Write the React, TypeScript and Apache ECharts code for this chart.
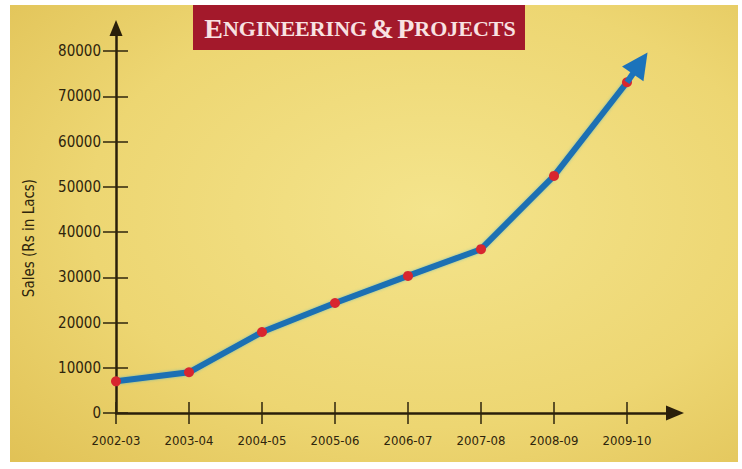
import React, { useEffect, useRef } from "react";
import * as echarts from "echarts";

const categories = ["2002-03", "2003-04", "2004-05", "2005-06", "2006-07", "2007-08", "2008-09", "2009-10"];
const sales = [7000, 9000, 17900, 24300, 30300, 36200, 52400, 73100];
const yMin = 0;
const yMax = 80000;
const yInterval = 10000;
// trend arrow continues beyond the last point (category index, value)
const arrowStart = [7, 73100];
const arrowEnd = [7.18, 77300];
const titleText = "{b|E}{s|NGINEERING} {b|&} {b|P}{s|ROJECTS}";
const yName = "Sales (Rs in Lacs)";

const NARROW = "'Liberation Sans Narrow', 'DejaVu Sans Condensed', 'Roboto', sans-serif";
const INK = "#2e240c";

export default function App() {
  const ref = useRef<HTMLDivElement>(null);
  useEffect(() => {
    if (!ref.current) return;
    const chart = echarts.init(ref.current, null, { renderer: "svg" });
    const option: any = {
      animation: false,
      backgroundColor: "#ffffff",
      grid: [
        { left: 116, right: 115, top: 51, bottom: 56 },
        { left: 116, right: 67, top: 28, bottom: 56 },
        { left: 116, right: 42, top: 51, bottom: 56 },
      ],
      graphic: [
        {
          type: "rect",
          z: -10,
          silent: true,
          shape: { x: 10, y: 5, width: 728, height: 457 },
          style: {
            fill: new echarts.graphic.RadialGradient(0.58, 0.45, 1.05, [
              { offset: 0, color: "#f4e48c" },
              { offset: 0.45, color: "#edd672" },
              { offset: 0.8, color: "#dfbf52" },
              { offset: 1, color: "#cba133" },
            ]),
          },
        },
        {
          type: "rect",
          z: 10,
          shape: { x: 193, y: 5, width: 332, height: 45 },
          style: { fill: "#a3192b" },
        },
        {
          type: "text",
          z: 11,
          x: 360,
          y: 28,
          style: {
            text: titleText,
            align: "center",
            verticalAlign: "middle",
            fill: "#f8e2e2",
            rich: {
              b: { fontFamily: "'Liberation Serif', serif", fontWeight: "bold", fontSize: 28, fill: "#f8e2e2" },
              s: { fontFamily: "'Liberation Serif', serif", fontWeight: "bold", fontSize: 22, fill: "#f8e2e2" },
            },
          },
        },
        {
          type: "text",
          z: 5,
          x: 29,
          y: 238,
          rotation: Math.PI / 2,
          style: {
            text: yName,
            align: "center",
            verticalAlign: "middle",
            fontFamily: NARROW,
            fontSize: 15,
            fill: INK,
          },
        },
      ],
      xAxis: [
        {
          type: "category",
          gridIndex: 0,
          position: "bottom",
          data: categories,
          boundaryGap: false,
          axisLine: { show: false },
          axisTick: { show: true, inside: false, length: 11, lineStyle: { color: INK, width: 1.5 } },
          axisLabel: { interval: 0, margin: 21, fontFamily: NARROW, fontSize: 13, color: INK },
          splitLine: { show: false },
        },
        {
          type: "category",
          gridIndex: 0,
          position: "bottom",
          data: categories,
          boundaryGap: false,
          axisLine: { show: false },
          axisTick: { show: true, inside: true, length: 11, lineStyle: { color: INK, width: 1.5 } },
          axisLabel: { show: false },
          splitLine: { show: false },
        },
        {
          type: "value",
          gridIndex: 1,
          position: "bottom",
          min: 0,
          max: 1,
          axisLine: {
            show: true,
            lineStyle: { color: "#2a1f0a", width: 2.5 },
            symbol: ["none", "triangle"],
            symbolSize: [15, 18],
          },
          axisTick: { show: false },
          axisLabel: { show: false },
          splitLine: { show: false },
        },
        {
          type: "value",
          gridIndex: 2,
          position: "top",
          min: 0,
          max: categories.length,
          show: false,
        },
      ],
      yAxis: [
        {
          type: "value",
          gridIndex: 0,
          position: "left",
          min: yMin,
          max: yMax,
          interval: yInterval,
          axisLine: { show: false },
          axisTick: { show: true, inside: false, length: 13, lineStyle: { color: INK, width: 1.5 } },
          axisLabel: {
            margin: 15,
            fontFamily: NARROW,
            fontSize: 15,
            color: INK,
            formatter: (v: number) => String(v),
          },
          splitLine: { show: false },
        },
        {
          type: "value",
          gridIndex: 0,
          position: "left",
          min: yMin,
          max: yMax,
          interval: yInterval,
          axisLine: { show: false },
          axisTick: { show: true, inside: true, length: 12, lineStyle: { color: INK, width: 1.5 } },
          axisLabel: { show: false },
          splitLine: { show: false },
        },
        {
          type: "value",
          gridIndex: 1,
          position: "left",
          min: 0,
          max: 1,
          axisLine: {
            show: true,
            lineStyle: { color: "#2a1f0a", width: 2.5 },
            symbol: ["none", "triangle"],
            symbolSize: [13, 16],
          },
          axisTick: { show: false },
          axisLabel: { show: false },
          splitLine: { show: false },
        },
        {
          type: "value",
          gridIndex: 2,
          position: "left",
          min: yMin,
          max: yMax,
          show: false,
        },
      ],
      series: [
        {
          type: "line",
          xAxisIndex: 3,
          yAxisIndex: 3,
          data: [arrowStart],
          symbol: "none",
          lineStyle: { width: 0 },
          z: 3,
          markLine: {
            silent: true,
            symbol: ["none", "triangle"],
            symbolSize: [26, 26],
            label: { show: false },
            lineStyle: { type: "solid", color: "#1b73bb", width: 6 },
            itemStyle: { color: "#1b7ccb" },
            data: [[{ coord: arrowStart }, { coord: arrowEnd }]],
          },
        },
        {
          type: "line",
          xAxisIndex: 0,
          yAxisIndex: 0,
          data: sales,
          z: 4,
          symbol: "circle",
          symbolSize: 10,
          itemStyle: { color: "#d8262f" },
          lineStyle: {
            color: "#1b6fb3",
            width: 6,
            shadowColor: "rgba(60,170,200,0.6)",
            shadowBlur: 3,
          },
        },
      ],
    };
    chart.setOption(option);
    return () => chart.dispose();
  }, []);
  return (
    <div
      ref={ref}
      style={{ position: "fixed", left: 0, top: 0, width: 742, height: 469 }}
    />
  );
}
